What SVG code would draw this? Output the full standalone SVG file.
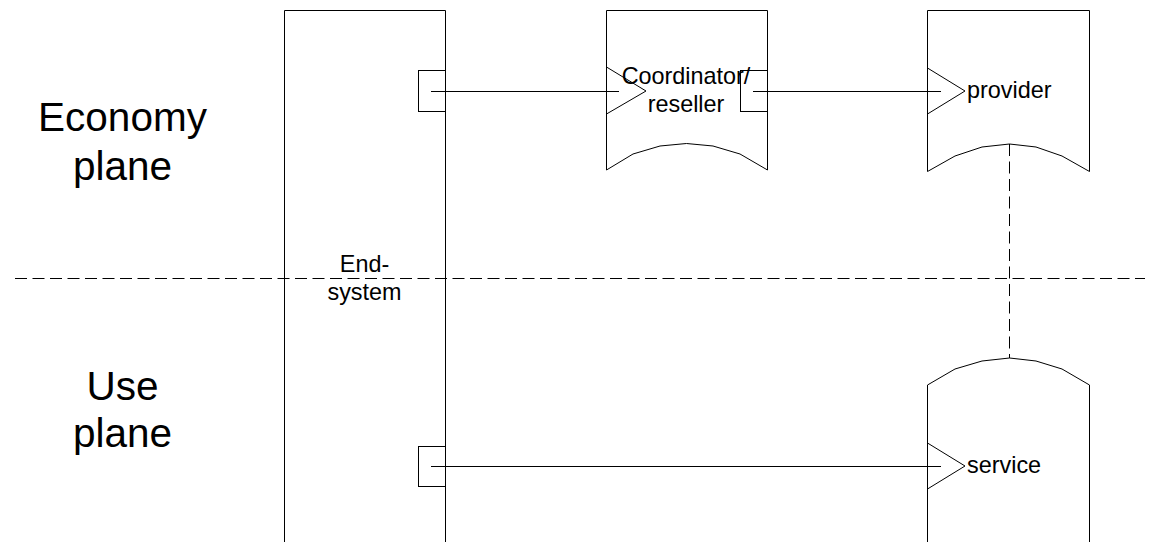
<svg xmlns="http://www.w3.org/2000/svg" width="1149" height="542" viewBox="0 0 1149 542">
<style>
.ln{fill:none;stroke:#000;stroke-width:1}
.bx{fill:#fff;stroke:#000;stroke-width:1}
.dash{fill:none;stroke:#000;stroke-width:1;stroke-dasharray:12 5.5}
.t{font-family:"Liberation Sans",Arial,sans-serif;font-size:23.4px;fill:#000}
.big{font-family:"Liberation Sans",Arial,sans-serif;font-size:40.5px;fill:#000;text-anchor:middle}
</style>
<rect width="1149" height="542" fill="#fff"/>
<g id="plane-labels">
<text class="big" x="122.5" y="131">Economy</text>
<text class="big" x="122.5" y="180">plane</text>
<text class="big" x="122.5" y="400">Use</text>
<text class="big" x="122.5" y="447">plane</text>
</g>
<g id="divider">
<line class="dash" x1="15" y1="278.5" x2="1145" y2="278.5"/>
</g>
<g id="end-system">
<path class="ln" d="M284.5,545 V10.5 H445.5 V545"/>
<rect class="bx" x="418.5" y="70.5" width="27" height="41"/>
<rect class="bx" x="418.5" y="446.5" width="27" height="40"/>
<text class="t" x="364.5" y="272" text-anchor="middle">End-</text>
<text class="t" x="364.5" y="300" text-anchor="middle">system</text>
</g>
<g id="coordinator">
<path class="ln" d="M606.5,170 V10.5 H767.5 V170 L740,154 L713,146 L686.5,143.5 L660,146 L633,154 Z"/>
<rect class="bx" x="740.5" y="70.5" width="27" height="41"/>
<polyline class="ln" points="606.5,67 646,91 606.5,114"/>
<text class="t" x="686" y="84" text-anchor="middle">Coordinator/</text>
<text class="t" x="686" y="112" text-anchor="middle">reseller</text>
</g>
<g id="provider">
<path class="ln" d="M927.5,171.5 V10.5 H1089.5 V171.5 L1062,156 L1036,147 L1009.5,144 L982,147 L955,156 Z"/>
<polyline class="ln" points="927.5,68 965,91 927.5,114"/>
<text class="t" x="967" y="97.5">provider</text>
</g>
<g id="service">
<path class="ln" d="M927.5,545 V385 L955,369 L982,361 L1009.5,358 L1036,361 L1062,369 L1089.5,385 V545"/>
<polyline class="ln" points="927.5,443 965,466 927.5,489"/>
<text class="t" x="967" y="472.5">service</text>
</g>
<g id="connectors">
<line class="ln" x1="431" y1="91.5" x2="619" y2="91.5"/>
<line class="ln" x1="753" y1="91.5" x2="941" y2="91.5"/>
<line class="ln" x1="431" y1="466.5" x2="941" y2="466.5"/>
<line class="dash" x1="1009.5" y1="144" x2="1009.5" y2="358"/>
</g>
</svg>
